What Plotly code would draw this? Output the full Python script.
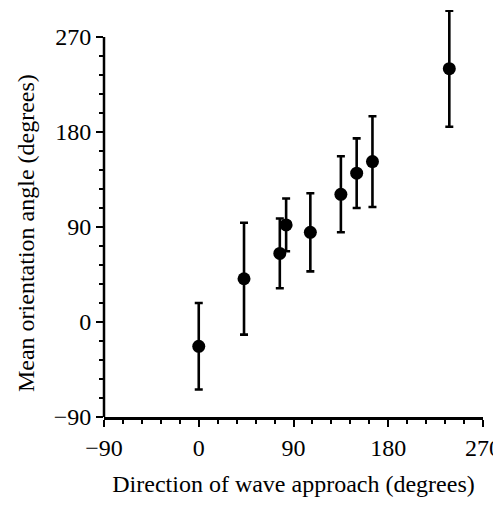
import plotly.graph_objects as go

wave_direction = [0, 43, 77, 83, 106, 135, 150, 165, 238]
mean_orientation = [-23, 41, 65, 92, 85, 121, 141, 152, 240]
error_half = [41, 53, 33, 25, 37, 36, 33, 43, 55]

x_ticks = [-90, 0, 90, 180, 270]
y_ticks = [-90, 0, 90, 180, 270]
minor_ticks = [v for v in range(-90, 271, 18) if v % 90 != 0]

font_family = "Liberation Serif, Times New Roman, serif"
FS = 24

fig = go.Figure()
fig.add_trace(go.Scatter(
    x=wave_direction, y=mean_orientation, mode="markers",
    marker=dict(color="black", size=13),
    error_y=dict(type="data", array=error_half, visible=True,
                 color="black", thickness=2.6, width=4),
    cliponaxis=False, showlegend=False,
))

axis_common = dict(
    showgrid=False, zeroline=False, linecolor="black", automargin=False,
    linewidth=2.5, ticks="outside", ticklen=7, tickwidth=2,
    tickcolor="black", mirror=False,
    tickfont=dict(family=font_family, size=FS, color="black"),
    minor=dict(ticks="outside", ticklen=4, tickwidth=1.5,
               tickcolor="black", tickvals=minor_ticks, showgrid=False),
)

fig.update_xaxes(range=[-90, 270], tickvals=x_ticks, showline=True,
                 ticktext=["\u221290" if v < 0 else str(v) for v in x_ticks],
                 title=dict(text="Direction of wave approach (degrees)",
                            font=dict(family=font_family, size=FS, color="black"),
                            standoff=21),
                 **axis_common)
fig.update_yaxes(range=[-90, 295.6], tickvals=y_ticks, showline=False,
                 ticktext=["\u221290" if v < 0 else str(v) for v in y_ticks],
                 **axis_common)

# y-axis spine only spanning the labelled range
fig.add_shape(type="line", xref="paper", yref="y", x0=0, x1=0,
              y0=y_ticks[0], y1=y_ticks[-1],
              line=dict(color="black", width=2.5))

fig.add_annotation(text="Mean orientation angle (degrees)", textangle=-90,
                   xref="paper", yref="paper", x=0, y=0.452,
                   xanchor="center", yanchor="middle", xshift=-78,
                   showarrow=False,
                   font=dict(family=font_family, size=FS, color="black"))

fig.update_layout(
    width=493, height=489,
    margin=dict(l=96, r=18, t=2, b=80),
    paper_bgcolor="white", plot_bgcolor="white",
)

fig.write_html("out.html")
